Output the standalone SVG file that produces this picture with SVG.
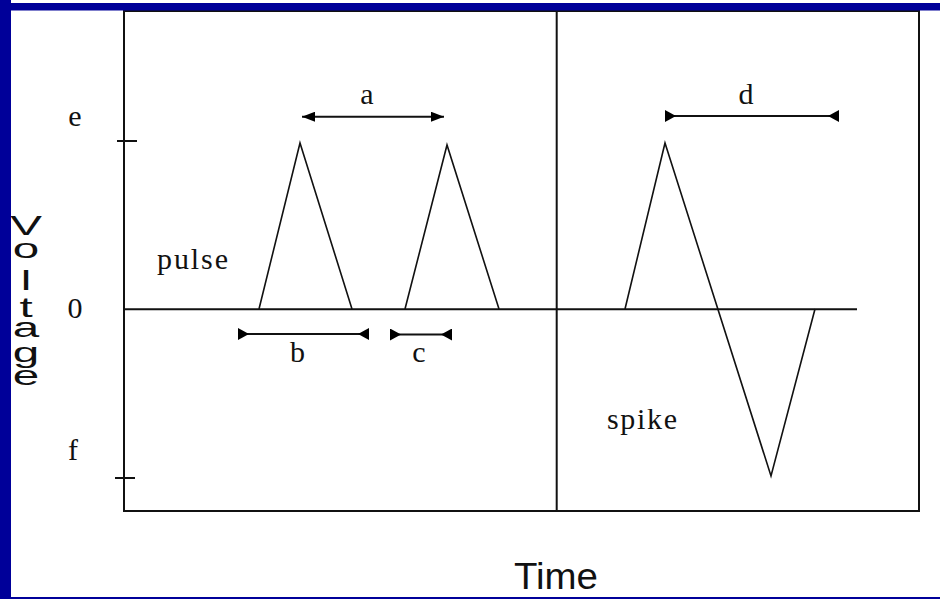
<svg xmlns="http://www.w3.org/2000/svg" width="940" height="599" viewBox="0 0 940 599">
<style>
.ln{stroke:#111;stroke-width:2;fill:none}
.wave{stroke:#111;stroke-width:1.6;fill:none;stroke-linejoin:miter}
.lbl{font-family:"Liberation Serif","Times New Roman",serif;font-size:30px;fill:#111}
.ax{font-family:"Liberation Sans",Arial,sans-serif;fill:#111}
.dim{stroke:#111;stroke-width:2;fill:none}
</style>
<defs>
<marker id="out" markerUnits="userSpaceOnUse" markerWidth="13" markerHeight="10" refX="13" refY="5" orient="auto-start-reverse"><path d="M0,0 L13,5 L0,10 z" fill="#000"/></marker>
<marker id="in" markerUnits="userSpaceOnUse" markerWidth="11" markerHeight="12" refX="11" refY="6" orient="auto-start-reverse"><path d="M11,0 L0,6 L11,12 z" fill="#000"/></marker>
</defs>
<rect width="940" height="599" fill="#fff"/>
<g id="frame">
<rect x="124" y="11" width="795" height="500" class="ln" stroke="#333" stroke-width="2.5"/>
<line x1="556.7" y1="11" x2="556.7" y2="511" class="ln"/>
<line x1="124" y1="309.3" x2="857" y2="309.3" class="ln"/>
<line x1="117" y1="141" x2="137" y2="141" class="ln"/>
<line x1="115" y1="478" x2="135" y2="478" class="ln"/>
</g>
<g id="pulse1"><polyline class="wave" points="259,309 300,143 352,309"/></g>
<g id="pulse2"><polyline class="wave" points="405,309 447,145 499,309"/></g>
<g id="spike"><polyline class="wave" points="625,309 665,143 771,476 815,309"/></g>
<g id="connectors">
<line class="dim" x1="302" y1="116.7" x2="444" y2="116.7" marker-start="url(#out)" marker-end="url(#out)"/>
<line class="dim" x1="665" y1="116" x2="839" y2="116" marker-start="url(#in)" marker-end="url(#in)"/>
<line class="dim" x1="238" y1="334" x2="369" y2="334" marker-start="url(#in)" marker-end="url(#in)"/>
<line class="dim" x1="390" y1="334.5" x2="452" y2="334.5" marker-start="url(#in)" marker-end="url(#in)"/>
</g>
<g id="labels">
<text class="lbl" x="75" y="126" text-anchor="middle">e</text>
<text class="lbl" x="75" y="318" text-anchor="middle">0</text>
<text class="lbl" x="73" y="460" text-anchor="middle">f</text>
<text class="lbl" x="157" y="269" textLength="71" lengthAdjust="spacing">pulse</text>
<text class="lbl" x="367" y="104" text-anchor="middle">a</text>
<text class="lbl" x="297.5" y="362" text-anchor="middle">b</text>
<text class="lbl" x="419" y="362" text-anchor="middle">c</text>
<text class="lbl" x="746" y="104" text-anchor="middle">d</text>
<text class="lbl" x="607" y="429" textLength="70" lengthAdjust="spacing">spike</text>
<text class="ax" font-size="28" transform="translate(26,0) scale(1.7,1)" text-anchor="middle" x="0 0 0 0 0 0 0" y="235 258 290 317 337 362 385">Voltage</text>
<text class="ax" font-size="37" x="514" y="589" textLength="84" lengthAdjust="spacingAndGlyphs">Time</text>
</g>
<g id="border" fill="#000099">
<rect x="0" y="3" width="940" height="7.5"/>
<rect x="0" y="0" width="11" height="599"/>
<rect x="0" y="597" width="940" height="2"/>
</g>
</svg>
